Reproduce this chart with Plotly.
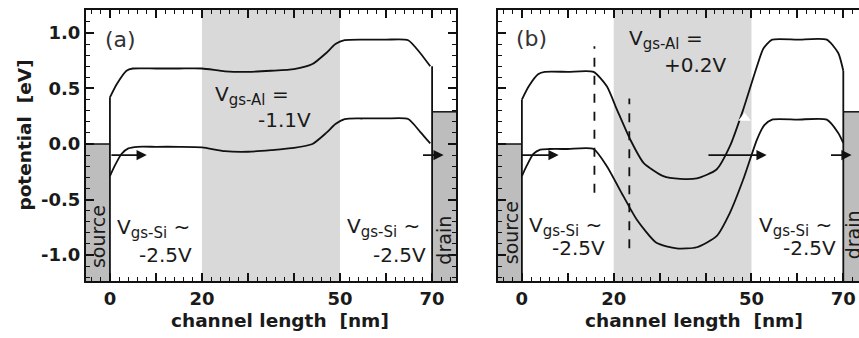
import plotly.graph_objects as go

# ---------------- data ----------------
# panel (a)  Vgs-Al = -1.1 V
xa_upper = [0, 1.5, 3.6, 5, 10, 15, 20, 25, 30, 35, 40, 44, 47, 49, 51, 55, 60, 64.8, 67.4, 69.6]
ya_upper = [0.42, 0.54, 0.66, 0.68, 0.68, 0.68, 0.68, 0.655, 0.65, 0.66, 0.675, 0.72, 0.82, 0.9, 0.935, 0.94, 0.94, 0.935, 0.82, 0.70]
xa_lower = [0, 1.0, 2.5, 4.0, 6, 10, 15, 20, 25, 30, 35, 40, 44, 47, 49, 51, 55, 60, 64.8, 67.4, 69.6]
ya_lower = [-0.29, -0.2, -0.09, -0.04, -0.025, -0.025, -0.025, -0.03, -0.065, -0.07, -0.055, -0.035, 0.0, 0.1, 0.18, 0.225, 0.23, 0.23, 0.225, 0.11, 0.005]

# panel (b)  Vgs-Al = +0.2 V
xb_upper = [0, 1.5, 3.6, 5, 10, 15.6, 18.5, 20.7, 23.6, 26.5, 30.8, 34.5, 38.1, 42.4, 45.3, 48.2, 51.2, 52.6, 54.5, 60, 66.4, 68.9, 70]
yb_upper = [0.40, 0.52, 0.63, 0.65, 0.65, 0.65, 0.52, 0.31, 0.04, -0.17, -0.29, -0.315, -0.31, -0.23, -0.02, 0.31, 0.70, 0.86, 0.94, 0.94, 0.94, 0.82, 0.66]
xb_lower = [0, 1.0, 2.5, 4.0, 6, 10, 15.6, 18.5, 22.1, 25.0, 29.3, 33.7, 38.1, 42.4, 45.3, 48.2, 51.2, 52.8, 54.5, 60, 66.4, 68.9, 70]
yb_lower = [-0.29, -0.2, -0.09, -0.05, -0.045, -0.045, -0.045, -0.2, -0.47, -0.68, -0.89, -0.94, -0.93, -0.83, -0.62, -0.32, 0.04, 0.17, 0.22, 0.22, 0.22, 0.10, 0.01]

# dashed markers in panel (b): x position, y bottom, y top
dash_x = [15.8, 23.4]
dash_y0 = [-0.44, -0.94]
dash_y1 = [0.88, 0.41]

# white triangle mark in panel (b)
tri_x = [48.5]
tri_y = [0.235]

gate_region = [20, 50]
source_level = 0.0
drain_level = 0.29
arrow_y = -0.1
arrows_a = [(0, 8), (67.7, 72.5)]
arrows_b = [(-0.4, 8.0), (40.3, 53.3), (67.0, 71.8)]

xticks = [0, 10, 20, 30, 40, 50, 60, 70]
xticktext = ['0', '', '20', '', '', '50', '', '70']
yticks = [-1.0, -0.5, 0.0, 0.5, 1.0]
yticktext = ['-1.0', '-0.5', '0.0', '0.5', '1.0']
x_minor_step = 2
y_minor_step = 0.1

XR_A = [-5.2, 75.2]
XR_B = [-5.2, 73.42]
YR = [-1.234, 1.207]

INK = '#111111'
LIGHT = '#d9d9d9'
DARK = '#bdbdbd'
FONT = 'DejaVu Sans'
CLEAR = 'rgba(0,0,0,0)'

fig = go.Figure()

def ghost(xa, ya):
    fig.add_trace(go.Scatter(x=[10], y=[0], mode='markers', marker=dict(opacity=0), xaxis=xa, yaxis=ya,
                             showlegend=False, hoverinfo='skip'))

# tiny hidden placeholder subplot (keeps the 'xy' slot out of the way)
ghost('x', 'y')

line_style = dict(color=INK, width=1.8, shape='spline', smoothing=0.6)
fig.add_trace(go.Scatter(x=xa_upper, y=ya_upper, mode='lines', line=line_style, xaxis='x3', yaxis='y3', showlegend=False))
fig.add_trace(go.Scatter(x=xa_lower, y=ya_lower, mode='lines', line=line_style, xaxis='x3', yaxis='y3', showlegend=False))
fig.add_trace(go.Scatter(x=xb_upper, y=yb_upper, mode='lines', line=line_style, xaxis='x2', yaxis='y2', showlegend=False))
fig.add_trace(go.Scatter(x=xb_lower, y=yb_lower, mode='lines', line=line_style, xaxis='x2', yaxis='y2', showlegend=False))
fig.add_trace(go.Scatter(x=tri_x, y=tri_y, mode='markers', marker=dict(symbol='triangle-up', size=11, color='white', line=dict(width=0)),
                         xaxis='x2', yaxis='y2', showlegend=False))

# overlay axes carrying the extra tick rows (top/right majors, all minors)
for xa, ya in [('x4', 'y3'), ('x6', 'y3'), ('x7', 'y3'), ('x3', 'y4'), ('x3', 'y6'), ('x3', 'y7'),
               ('x5', 'y2'), ('x8', 'y2'), ('x9', 'y2'), ('x2', 'y5')]:
    ghost(xa, ya)

shapes = []
for xr, yr, xrng, up in [('x3', 'y3', XR_A, ya_upper), ('x2', 'y2', XR_B, yb_upper)]:
    shapes.append(dict(type='rect', xref=xr, yref=yr, x0=gate_region[0], x1=gate_region[1], y0=YR[0], y1=YR[1],
                       fillcolor=LIGHT, line=dict(width=0), layer='below'))
    shapes.append(dict(type='rect', xref=xr, yref=yr, x0=xrng[0], x1=0, y0=YR[0], y1=source_level,
                       fillcolor=DARK, line=dict(width=0), layer='below'))
    shapes.append(dict(type='rect', xref=xr, yref=yr, x0=70, x1=xrng[1], y0=YR[0], y1=drain_level,
                       fillcolor=DARK, line=dict(width=0), layer='below'))
    shapes.append(dict(type='line', xref=xr, yref=yr, x0=xrng[0], x1=0, y0=source_level, y1=source_level, line=dict(color=INK, width=1.5)))
    shapes.append(dict(type='line', xref=xr, yref=yr, x0=70, x1=xrng[1], y0=drain_level, y1=drain_level, line=dict(color=INK, width=1.5)))
    shapes.append(dict(type='line', xref=xr, yref=yr, x0=0, x1=0, y0=YR[0], y1=up[0], line=dict(color=INK, width=1.8)))
    shapes.append(dict(type='line', xref=xr, yref=yr, x0=70, x1=70, y0=YR[0], y1=up[-1], line=dict(color=INK, width=1.8)))

for xd, y0, y1 in zip(dash_x, dash_y0, dash_y1):
    shapes.append(dict(type='line', xref='x2', yref='y2', x0=xd, x1=xd, y0=y0, y1=y1,
                       line=dict(color=INK, width=1.8, dash='dash')))

annotations = []
for xr, yr, arr in [('x3', 'y3', arrows_a), ('x2', 'y2', arrows_b)]:
    for x0, x1 in arr:
        annotations.append(dict(xref=xr, yref=yr, axref=xr, ayref=yr, x=x1, y=arrow_y, ax=x0, ay=arrow_y,
                                text='', showarrow=True, arrowhead=2, arrowsize=1.2, arrowwidth=1.7, arrowcolor=INK))

TXT = '#1a1a1a'
def txt(xr, yr, x, y, s, size=20, xanchor='left', angle=0, color=TXT):
    annotations.append(dict(xref=xr, yref=yr, x=x, y=y, text=s, showarrow=False, xanchor=xanchor, yanchor='middle',
                            textangle=angle, font=dict(family=FONT, size=size, color=color)))

SUB_AL = "V<sub><span style='font-size:15px'>gs-Al</span></sub> ="
SUB_SI = "V<sub><span style='font-size:15px'>gs-Si</span></sub> ~"

# panel a texts
txt('x3', 'y3', 2.35, 0.94, '(a)', size=22, xanchor='center', color='#333333')
txt('x3', 'y3', 22.4, 0.44, SUB_AL)
txt('x3', 'y3', 44.2, 0.22, '-1.1V', xanchor='right')
txt('x3', 'y3', 1.1, -0.76, SUB_SI)
txt('x3', 'y3', 18.3, -1.0, '-2.5V', xanchor='right')
txt('x3', 'y3', 51.1, -0.755, SUB_SI)
txt('x3', 'y3', 69.1, -1.0, '-2.5V', xanchor='right')
txt('x3', 'y3', -2.6, -0.83, 'source', size=19, xanchor='center', angle=-90)
txt('x3', 'y3', 72.5, -0.865, 'drain', size=19, xanchor='center', angle=-90)

# panel b texts
txt('x2', 'y2', 2.2, 0.95, '(b)', size=22, xanchor='center', color='#333333')
txt('x2', 'y2', 22.9, 0.94, SUB_AL)
txt('x2', 'y2', 45.0, 0.71, '+0.2V', xanchor='right')
txt('x2', 'y2', 1.1, -0.745, SUB_SI)
txt('x2', 'y2', 18.6, -0.94, '-2.5V', xanchor='right')
txt('x2', 'y2', 51.2, -0.745, SUB_SI)
txt('x2', 'y2', 68.9, -0.94, '-2.5V', xanchor='right')
txt('x2', 'y2', -2.5, -0.80, 'source', size=19, xanchor='center', angle=-90)
txt('paper', 'y2', 0.9926, -0.82, 'drain', size=19, xanchor='center', angle=-90)

# axis titles
TITLE_FONT = dict(family=FONT, size=18.5, color=TXT, weight='bold')
annotations.append(dict(xref='x3', yref='paper', x=37, y=-0.144, text='channel length  [nm]', showarrow=False,
                        xanchor='center', yanchor='middle', font=TITLE_FONT))
annotations.append(dict(xref='x2', yref='paper', x=37.4, y=-0.144, text='channel length  [nm]', showarrow=False,
                        xanchor='center', yanchor='middle', font=TITLE_FONT))
annotations.append(dict(xref='paper', yref='paper', x=-0.079, y=0.54, text='potential  [eV]', showarrow=False,
                        xanchor='center', yanchor='middle', textangle=-90, font=TITLE_FONT))

TICKFONT = dict(family=FONT, size=18, color=TXT)
bold = lambda L: ['<b>%s</b>' % t if t else '' for t in L]

DOM_A = [0, 0.4787]
DOM_B = [0.533, 1.0]

def x_major(dom, rng, anchor, labels=True, line=True, side='bottom', overlaying=None):
    d = dict(domain=dom, range=rng, anchor=anchor, side=side, ticks='inside', ticklen=8, tickwidth=1.5, tickcolor=INK,
             mirror=line, showline=line, linecolor=INK, linewidth=2, tickmode='array', tickvals=xticks,
             ticktext=bold(xticktext), showticklabels=labels, tickfont=TICKFONT, gridcolor=CLEAR, zerolinecolor=CLEAR)
    if overlaying:
        d['overlaying'] = overlaying
    return d

def x_minor(dom, rng, anchor, side, overlaying):
    return dict(domain=dom, range=rng, anchor=anchor, side=side, overlaying=overlaying, ticks='inside', ticklen=4,
                tickwidth=1.2, tickcolor=INK, showline=False, tickmode='linear', tick0=0, dtick=x_minor_step,
                showticklabels=False, gridcolor=CLEAR, zerolinecolor=CLEAR)

def y_major(anchor, labels=True, line=True, mirror=True, side='left', overlaying=None):
    d = dict(range=YR, anchor=anchor, side=side, ticks='inside', ticklen=8, tickwidth=1.5, tickcolor=INK,
             mirror=mirror, showline=line, linecolor=INK, linewidth=2, tickmode='array', tickvals=yticks,
             ticktext=bold(yticktext), showticklabels=labels, tickfont=TICKFONT, gridcolor=CLEAR, zerolinecolor=CLEAR)
    if overlaying:
        d['overlaying'] = overlaying
    return d

def y_minor(anchor, side, overlaying):
    return dict(range=YR, anchor=anchor, side=side, overlaying=overlaying, ticks='inside', ticklen=4,
                tickwidth=1.2, tickcolor=INK, showline=False, tickmode='linear', tick0=0, dtick=y_minor_step,
                showticklabels=False, gridcolor=CLEAR, zerolinecolor=CLEAR)

fig.update_layout(
    width=859, height=338,
    margin=dict(l=86, r=0, t=10, b=57),
    paper_bgcolor='white', plot_bgcolor='white',
    xaxis=dict(domain=[0.49, 0.50], visible=False, anchor='y'),
    yaxis=dict(domain=[0.0, 0.01], visible=False, anchor='x'),
    # panel (a)
    xaxis3=x_major(DOM_A, XR_A, 'y3'),
    yaxis3=y_major('x3', labels=True, mirror=True),
    xaxis4=x_major(DOM_A, XR_A, 'y3', labels=False, line=False, side='top', overlaying='x3'),
    yaxis4=y_major('x3', labels=False, line=False, mirror=False, side='right', overlaying='y3'),
    xaxis6=x_minor(DOM_A, XR_A, 'y3', 'bottom', 'x3'),
    xaxis7=x_minor(DOM_A, XR_A, 'y3', 'top', 'x3'),
    yaxis6=y_minor('x3', 'left', 'y3'),
    yaxis7=y_minor('x3', 'right', 'y3'),
    # panel (b)
    xaxis2=x_major(DOM_B, XR_B, 'y2'),
    yaxis2=y_major('x2', labels=False, mirror=False),
    xaxis5=x_major(DOM_B, XR_B, 'y2', labels=False, line=False, side='top', overlaying='x2'),
    xaxis8=x_minor(DOM_B, XR_B, 'y2', 'bottom', 'x2'),
    xaxis9=x_minor(DOM_B, XR_B, 'y2', 'top', 'x2'),
    yaxis5=y_minor('x2', 'left', 'y2'),
    shapes=shapes,
    annotations=annotations,
    showlegend=False,
)

fig.write_html("out.html")
